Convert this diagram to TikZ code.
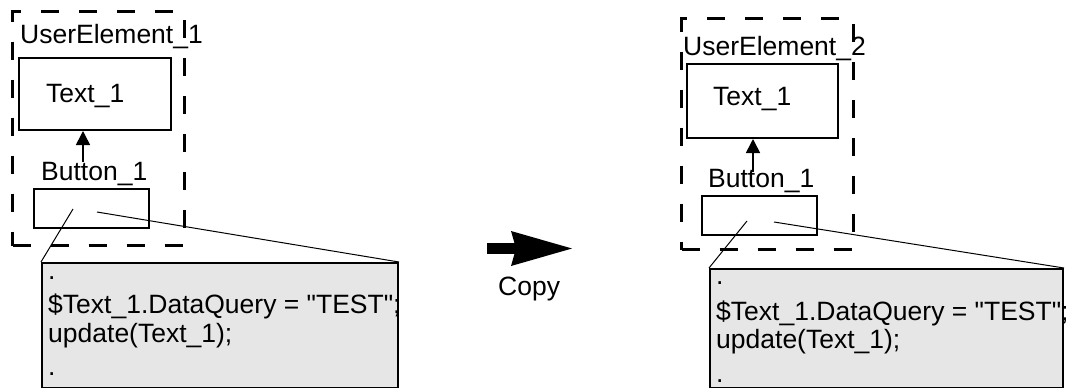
\documentclass[tikz,border=0pt]{standalone}
\usepackage{fontspec}
\setmainfont{Liberation Sans}[Ligatures=TeXOff]
\usetikzlibrary{arrows.meta}
\definecolor{codegray}{HTML}{E6E6E6}
\tikzset{
  lbl/.style={anchor=base west, inner sep=0pt, font=\fontsize{26.5}{30}\selectfont},
  uebox/.style={draw, line width=3pt, dash pattern=on 18pt off 20pt, anchor=north west, inner sep=0pt},
  solidbox/.style={draw, line width=2pt, anchor=north west, inner sep=0pt},
  codebox/.style={draw, line width=2pt, fill=codegray, anchor=north west, inner sep=0pt},
  callout/.style={line width=1pt},
  linkarrow/.style={line width=1.6pt, -{Triangle[width=14pt,length=14pt]}},
}
\begin{document}
\begin{tikzpicture}[x=1pt,y=-1pt]
\useasboundingbox (0,0) rectangle (1072,388);
% ---------- left ----------
\node[uebox, minimum width=172pt, minimum height=234pt] (ueA) at (11,10) {};
\node[solidbox, minimum width=152pt, minimum height=72pt] (tA) at (18,57) {};
\node[solidbox, minimum width=115pt, minimum height=39pt] (bA) at (33,188) {};
\node[codebox, minimum width=356pt, minimum height=125pt] (cA) at (41,262) {};
\node[lbl] (ueAl) at (20,43) {UserElement\_1};
\node[lbl] (tAl) at (46,102) {Text\_1};
\node[lbl] (bAl) at (41,180) {Button\_1};
\node[lbl] (cA1) at (48,279) {.};
\node[lbl] (cA2) at (48,313) {\$Text\_1.DataQuery = "TEST";};
\node[lbl] (cA3) at (48,342) {update(Text\_1);};
\node[lbl] (cA4) at (48,375) {.};
\coordinate (aAstart) at (83,162);
\draw[linkarrow] (aAstart) -- (tA.south -| aAstart);
\coordinate (pA1) at (73,209);
\coordinate (pA2) at (97,212);
\draw[callout] (pA1) -- (cA.north west);
\draw[callout] (pA2) -- (cA.north east);
% ---------- copy arrow ----------
\node[anchor=base west, inner sep=0pt, font=\fontsize{26.5}{30}\selectfont] (copyl) at (498,295) {Copy};
\fill (487,243) rectangle (516,254);
\fill (511,231) -- (572,248.5) -- (511,266) -- (516,248.5) -- cycle;
% ---------- right ----------
\node[uebox, minimum width=172pt, minimum height=231pt] (ueB) at (680,17) {};
\node[solidbox, minimum width=151pt, minimum height=74pt] (tB) at (686,63) {};
\node[solidbox, minimum width=115pt, minimum height=39pt] (bB) at (701,195) {};
\node[codebox, minimum width=353pt, minimum height=119pt] (cB) at (709,268) {};
\node[lbl] (ueBl) at (683,55) {UserElement\_2};
\node[lbl] (tBl) at (713,105) {Text\_1};
\node[lbl] (bBl) at (708,187) {Button\_1};
\node[lbl] (cB1) at (716,284) {.};
\node[lbl] (cB2) at (716,320) {\$Text\_1.DataQuery = "TEST";};
\node[lbl] (cB3) at (716,348) {update(Text\_1);};
\node[lbl] (cB4) at (716,382) {.};
\coordinate (aBstart) at (753,172);
\draw[linkarrow] (aBstart) -- (tB.south -| aBstart);
\coordinate (pB1) at (747,221);
\coordinate (pB2) at (774,222);
\draw[callout] (pB1) -- (cB.north west);
\draw[callout] (pB2) -- (cB.north east);
\end{tikzpicture}
\end{document}
